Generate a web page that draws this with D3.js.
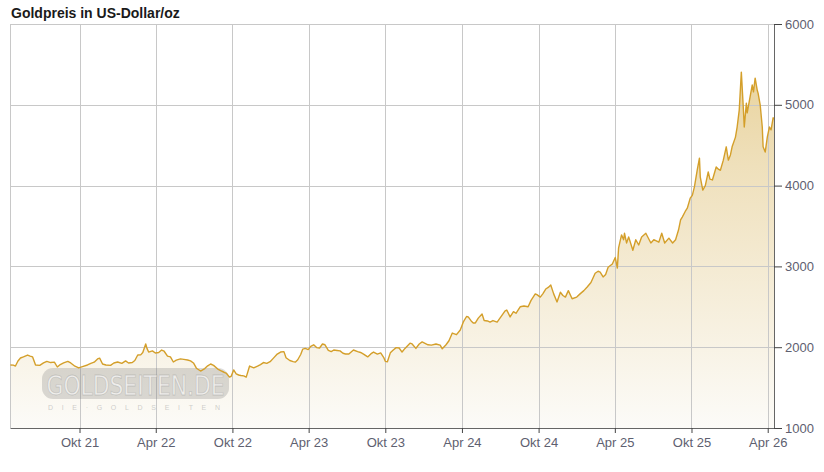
<!DOCTYPE html>
<html><head><meta charset="utf-8">
<script src="https://cdn.jsdelivr.net/npm/d3@7"></script>
<style>
html,body{margin:0;padding:0;background:#fff;}
svg{display:block;font-family:"Liberation Sans",Arial,sans-serif;}
</style></head><body>
<svg id="c" width="824" height="472"></svg>
<script>
const title = "Goldpreis in US-Dollar/oz";
const xTickDates = ["2021-10-01","2022-04-01","2022-10-01","2023-04-01","2023-10-01","2024-04-01","2024-10-01","2025-04-01","2025-10-01","2026-04-01"];
const xTickLabels = ["Okt 21","Apr 22","Okt 22","Apr 23","Okt 23","Apr 24","Okt 24","Apr 25","Okt 25","Apr 26"];
const yTicks = [1000,2000,3000,4000,5000,6000];
const dates = [
"2021-04-19","2021-04-26","2021-05-01","2021-05-07","2021-05-13","2021-05-20","2021-05-30","2021-06-05","2021-06-11","2021-06-18",
"2021-06-28","2021-07-07","2021-07-15","2021-07-24","2021-08-02","2021-08-09","2021-08-16","2021-08-24","2021-09-03","2021-09-10",
"2021-09-20","2021-09-29","2021-10-08","2021-10-20","2021-10-28","2021-11-05","2021-11-13","2021-11-18","2021-11-25","2021-12-03",
"2021-12-14","2021-12-22","2021-12-31","2022-01-10","2022-01-19","2022-01-26","2022-02-04","2022-02-10","2022-02-17","2022-02-24",
"2022-03-01","2022-03-08","2022-03-11","2022-03-15","2022-03-24","2022-03-31","2022-04-08","2022-04-15","2022-04-21","2022-04-29",
"2022-05-06","2022-05-13","2022-05-20","2022-05-30","2022-06-07","2022-06-16","2022-06-23","2022-06-30","2022-07-07","2022-07-17",
"2022-07-27","2022-08-03","2022-08-10","2022-08-17","2022-08-27","2022-09-03","2022-09-10","2022-09-17","2022-09-24","2022-09-28",
"2022-10-04","2022-10-10","2022-10-16","2022-10-21","2022-10-28","2022-11-03","2022-11-11","2022-11-21","2022-11-30","2022-12-07",
"2022-12-14","2022-12-22","2022-12-30","2023-01-07","2023-01-16","2023-01-24","2023-02-01","2023-02-06","2023-02-15","2023-02-23",
"2023-02-28","2023-03-06","2023-03-13","2023-03-18","2023-03-24","2023-03-31","2023-04-06","2023-04-13","2023-04-20","2023-04-27",
"2023-05-04","2023-05-10","2023-05-18","2023-05-25","2023-05-31","2023-06-08","2023-06-15","2023-06-22","2023-06-28","2023-07-06",
"2023-07-17","2023-07-27","2023-08-03","2023-08-10","2023-08-20","2023-08-28","2023-09-03","2023-09-12","2023-09-20","2023-09-27",
"2023-10-01","2023-10-06","2023-10-13","2023-10-20","2023-10-27","2023-11-03","2023-11-10","2023-11-17","2023-11-29","2023-12-04",
"2023-12-13","2023-12-21","2023-12-28","2024-01-05","2024-01-11","2024-01-19","2024-01-30","2024-02-09","2024-02-14","2024-02-23",
"2024-03-01","2024-03-09","2024-03-19","2024-03-28","2024-04-05","2024-04-12","2024-04-16","2024-04-23","2024-04-28","2024-05-03",
"2024-05-10","2024-05-19","2024-05-24","2024-06-01","2024-06-07","2024-06-14","2024-06-24","2024-07-05","2024-07-13","2024-07-17",
"2024-07-25","2024-08-02","2024-08-08","2024-08-18","2024-08-27","2024-09-06","2024-09-13","2024-09-23","2024-09-27","2024-10-05",
"2024-10-11","2024-10-18","2024-10-24","2024-10-30","2024-11-06","2024-11-14","2024-11-22","2024-11-28","2024-12-04","2024-12-11",
"2024-12-20","2024-12-31","2025-01-08","2025-01-17","2025-01-25","2025-02-03","2025-02-13","2025-02-20","2025-02-25","2025-03-04",
"2025-03-10","2025-03-16","2025-03-26",
"2025-04-02","2025-04-07","2025-04-10","2025-04-17","2025-04-22","2025-04-24","2025-04-29","2025-05-04","2025-05-14","2025-05-21",
"2025-05-28","2025-06-04","2025-06-14","2025-06-26","2025-07-03","2025-07-15","2025-07-22","2025-07-29","2025-08-08","2025-08-17",
"2025-08-24","2025-08-31","2025-09-05",
"2025-09-09","2025-09-16","2025-09-21","2025-09-28","2025-10-03","2025-10-08","2025-10-15","2025-10-20","2025-10-22","2025-10-28",
"2025-11-03","2025-11-10","2025-11-14","2025-11-20","2025-11-29","2025-12-05","2025-12-09","2025-12-16","2025-12-23","2025-12-28",
"2026-01-02","2026-01-06","2026-01-14","2026-01-18","2026-01-23","2026-01-28","2026-02-02","2026-02-04","2026-02-09","2026-02-11",
"2026-02-18","2026-02-23","2026-02-26","2026-03-02","2026-03-07","2026-03-09","2026-03-14","2026-03-19","2026-03-21","2026-03-26",
"2026-03-31","2026-04-05","2026-04-09","2026-04-14","2026-04-16"];
const prices = [
1780,1778,1767,1830,1866,1880,1903,1890,1880,1780,
1775,1805,1825,1810,1815,1755,1785,1805,1825,1805,
1765,1743,1760,1780,1800,1815,1855,1865,1792,1780,
1775,1805,1817,1800,1830,1805,1810,1835,1903,1905,
1935,2040,1985,1940,1955,1928,1935,1965,1950,1890,
1880,1817,1840,1855,1850,1842,1830,1805,1740,1705,
1735,1770,1792,1775,1730,1710,1693,1675,1630,1640,
1718,1670,1656,1650,1645,1630,1767,1745,1765,1785,
1810,1800,1820,1865,1915,1940,1945,1870,1835,1822,
1815,1845,1910,1977,1985,1970,2010,2030,1995,1990,
2040,2030,1960,1945,1965,1960,1955,1925,1916,1915,
1965,1945,1935,1915,1880,1920,1940,1915,1930,1875,
1825,1820,1930,1965,1995,1990,1940,1985,2050,2040,
1985,2040,2065,2045,2030,2025,2040,2025,1980,2030,
2080,2175,2155,2213,2320,2380,2375,2325,2300,2300,
2360,2410,2330,2325,2310,2330,2310,2390,2450,2460,
2375,2440,2420,2500,2510,2500,2580,2660,2650,2620,
2660,2720,2740,2770,2660,2560,2680,2640,2620,2700,
2600,2620,2660,2700,2745,2800,2915,2940,2930,2870,
2900,2990,3030,
3110,2980,3230,3390,3330,3410,3290,3365,3200,3330,
3265,3365,3410,3290,3330,3300,3410,3290,3350,3290,
3330,3450,3575,
3610,3680,3720,3845,3880,3985,4200,4340,4105,3945,
4000,4170,4080,4070,4230,4200,4190,4315,4480,4315,
4380,4480,4600,4725,4935,5405,4935,4725,5020,4900,
5100,5245,5160,5330,5180,5145,5000,4725,4480,4415,
4600,4725,4690,4840,4820];

const parse = d3.timeParse("%Y-%m-%d");
const n = Math.min(dates.length, prices.length);
const data = dates.slice(0,n).map((d,i)=>({date:parse(d), value:prices[i]}));

const L=10, R=774, T=24, B=428;
const x = d3.scaleTime().domain([parse("2021-04-18"), parse("2026-04-16")]).range([L,R]);
const y = d3.scaleLinear().domain([1000,6000]).range([B,T]);

const svg = d3.select("#c");
const defs = svg.append("defs");
const grad = defs.append("linearGradient").attr("id","g").attr("gradientUnits","userSpaceOnUse")
  .attr("x1",0).attr("y1",T).attr("x2",0).attr("y2",B);
grad.append("stop").attr("offset","0%").attr("stop-color","#e6cd8f");
grad.append("stop").attr("offset","35%").attr("stop-color","#efe0bb");
grad.append("stop").attr("offset","100%").attr("stop-color","#fcfbf8");

svg.append("text").attr("x",11).attr("y",18).attr("font-size",14).attr("font-weight","bold")
  .attr("fill","#1a1a1a").text(title);

// area
svg.append("path").datum(data)
  .attr("d", d3.area().x(d=>x(d.date)).y0(B).y1(d=>y(d.value)))
  .attr("fill","url(#g)");

// grid
const grid = svg.append("g");
grid.selectAll("line.h").data(yTicks.filter(v=>v>1000)).join("line")
  .attr("x1",L).attr("x2",R).attr("y1",d=>Math.round(y(d))+0.5).attr("y2",d=>Math.round(y(d))+0.5)
  .attr("stroke","#c8c8c8").attr("stroke-width",1);
grid.selectAll("line.v").data(xTickDates.map(parse)).join("line")
  .attr("x1",d=>Math.round(x(d))+0.5).attr("x2",d=>Math.round(x(d))+0.5).attr("y1",T).attr("y2",B)
  .attr("stroke","#c8c8c8").attr("stroke-width",1);
grid.append("line").attr("x1",L+0.5).attr("x2",L+0.5).attr("y1",T).attr("y2",B).attr("stroke","#c8c8c8");

// watermark
const wm = svg.append("g");
wm.append("rect").attr("x",42).attr("y",368).attr("width",187).attr("height",31).attr("rx",11)
  .attr("fill","rgba(110,110,110,0.24)");
wm.append("text").attr("x",135.5).attr("y",395).attr("text-anchor","middle")
  .attr("font-family","'Liberation Sans Narrow','DejaVu Sans Condensed',sans-serif")
  .attr("font-size",27).attr("textLength",178).attr("lengthAdjust","spacingAndGlyphs")
  .attr("fill","rgba(255,255,255,0.6)").attr("stroke","rgba(150,150,150,0.4)").attr("stroke-width",0.8)
  .text("GOLDSEITEN.DE");
wm.append("text").attr("x",48).attr("y",410)
  .attr("font-size",7).attr("textLength",172).attr("lengthAdjust","spacing")
  .attr("fill","rgba(160,160,160,0.5)")
  .text("DIE·GOLDSEITEN");

// line
svg.append("path").datum(data)
  .attr("d", d3.line().x(d=>x(d.date)).y(d=>y(d.value)))
  .attr("fill","none").attr("stroke","#d49f2a").attr("stroke-width",1.4).attr("stroke-linejoin","round");

// bottom axis
const xAxis = d3.axisBottom(x).tickValues(xTickDates.map(parse))
  .tickFormat((d,i)=>xTickLabels[i]).tickSize(5).tickSizeOuter(0);
const gx = svg.append("g").attr("transform",`translate(0,${B})`).call(xAxis);
gx.select(".domain").attr("stroke","#666");
gx.selectAll(".tick line").attr("stroke","#444");
gx.selectAll("text").attr("font-size",13).attr("fill","#5e6070").attr("dy","0.85em")
  .attr("font-family","'Liberation Sans',Arial,sans-serif");

// right axis
const yAxis = d3.axisRight(y).tickValues(yTicks).tickSize(8).tickSizeOuter(0).tickFormat(d3.format("d"));
const gy = svg.append("g").attr("transform",`translate(${R},0)`).call(yAxis);
gy.select(".domain").attr("stroke","#666");
gy.selectAll(".tick line").attr("stroke","#444");
gy.selectAll("text").attr("font-size",13).attr("fill","#5e6070").attr("x",11)
  .attr("font-family","'Liberation Sans',Arial,sans-serif");
</script></body></html>
